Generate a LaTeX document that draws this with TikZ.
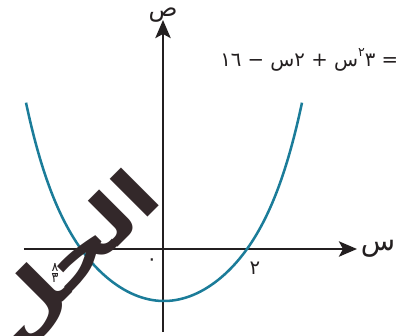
\documentclass[tikz,border=0pt]{standalone}
\usepackage{fontspec}
\usepackage{tikz}
\usetikzlibrary{arrows.meta}
\newfontfamily\arabicfont[Script=Arabic]{DejaVu Sans}
\TeXXeTstate=1
\definecolor{parab}{HTML}{1B7C99}
\definecolor{ink}{HTML}{231F20}
\definecolor{stamp}{HTML}{33282A}

\begin{document}
\begin{tikzpicture}[
  axis/.style={line width=2pt, draw=ink, -{Stealth[length=0.45cm, width=0.38cm, inset=0.1cm]}},
  lbl/.style={font=\arabicfont\fontsize{14}{16}\selectfont, text=ink, inner sep=0pt},
  big/.style={font=\arabicfont\fontsize{17}{18}\selectfont, text=ink, inner sep=0pt}
]
  % frame
  \clip (-4.075,-2.15) rectangle (5.975,6.225);

  % axes
  \coordinate (xs) at (-3.475,0);
  \coordinate (xe) at (4.85,0);
  \coordinate (ys) at (0,-2.075);
  \coordinate (ye) at (0,5.725);
  \draw[axis] (xs) -- (xe);
  \draw[axis] (ys) -- (ye);
  \node[big, anchor=base] (ylbl) at (0.0,5.82) {ص};
  \node[big, font=\arabicfont\fontsize{20}{22}\selectfont] (xlbl) at (5.375,0.0) {س};

  % curve
  \draw[parab, line width=1.8pt, domain=-3.45:3.45, samples=80, smooth, variable=\u]
    plot ({\u+0.025}, {-1.3+0.2847*\u*\u+0.000926*(\u*\u)^3});

  % tick labels
  \node[lbl] (zero) at (-0.275,-0.33) {٠};
  \node[lbl] (two) at (2.3,-0.475) {٢};
  \node[lbl, font=\arabicfont\fontsize{9}{10}\selectfont] (root) at (-2.7,-0.6)
    {$\frac{\hbox{٨}}{\hbox{٣}}$};

  % equation
  \node[lbl, anchor=base west] (eqn) at (1.425,4.56)
    {\beginR ص = ٣\raisebox{0.9ex}{\small ٢}س + ٢س − \beginL١٦\endL\endR};

  % stamp
  \node[font=\arabicfont\bfseries\fontsize{50}{50}\selectfont, text=stamp,
    rotate=45, xscale=1.3, inner sep=0pt] (sol) at (-2.2,-0.3) {\beginR الحل\endR};
\end{tikzpicture}
\end{document}
